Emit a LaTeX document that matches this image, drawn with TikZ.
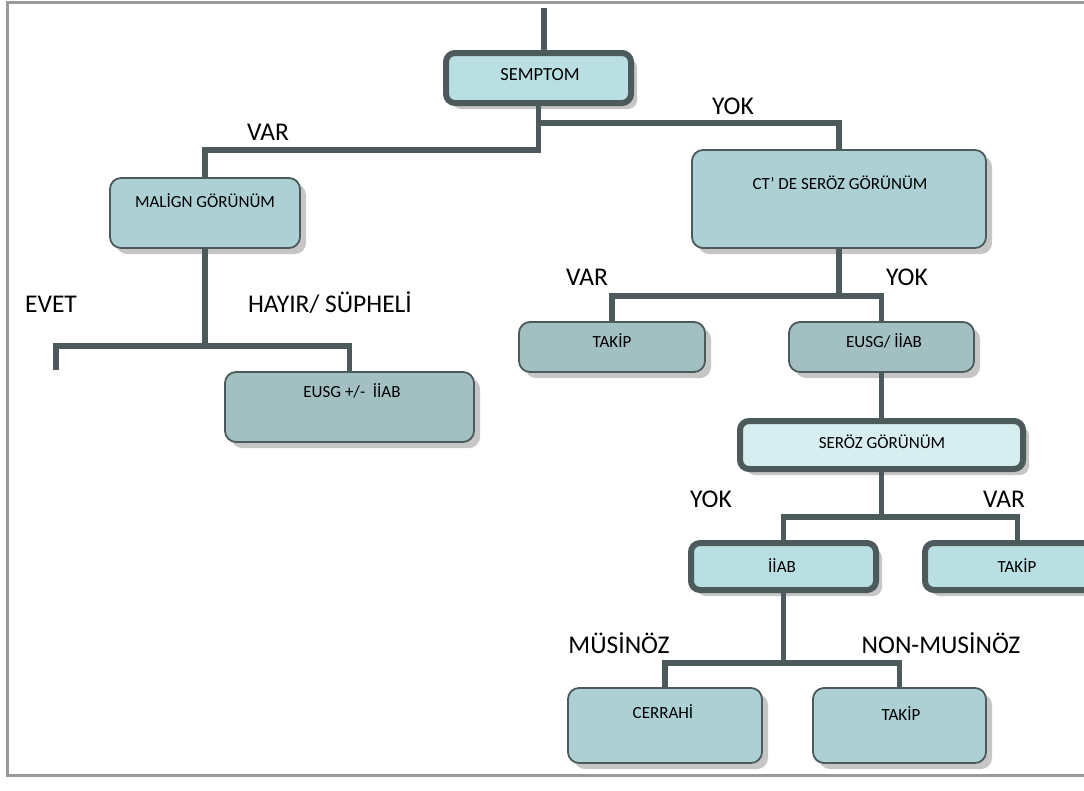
\documentclass[tikz,border=0pt]{standalone}
\usepackage{fontspec}
\setmainfont{Carlito}
\usetikzlibrary{shadows}
\definecolor{ln}{HTML}{4C5A5C}
\definecolor{fA}{HTML}{B9DFE3}
\definecolor{fB}{HTML}{ACD0D4}
\definecolor{fC}{HTML}{A2BFC2}
\definecolor{fD}{HTML}{D7EEF0}
\definecolor{shd}{HTML}{C6C6C6}
\definecolor{frm}{HTML}{9A9A9E}
\begin{document}
\begin{tikzpicture}[x=1pt,y=-1pt,
  conn/.style={draw=ln, line width=5.5pt},
  boxbase/.style={rectangle, inner sep=0pt, outer sep=0pt,
    general shadow={fill=shd, shadow xshift=6pt, shadow yshift=-6pt}},
  thinbox/.style={boxbase, draw=ln, line width=1.8pt, rounded corners=11pt},
  thickbox/.style={boxbase, draw=ln, line width=6pt, rounded corners=9pt},
  bt/.style={font=\fontsize{17}{20}\selectfont, anchor=base, inner sep=0pt},
  lbl/.style={font=\fontsize{25.5}{30}\selectfont, anchor=base, inner sep=0pt},
  frame/.style={draw=frm, line width=3pt}
]
\useasboundingbox (0,0) rectangle (1084,790);
\fill[white] (0,0) rectangle (1084,790);
\draw[frame] (1100,2) -- (7,2) -- (7,775) -- (1100,775);

% boxes
\node[thickbox, fill=fA, minimum width=185pt, minimum height=50pt] (semp) at (538.5,78) {};
\node[thinbox, fill=fB, minimum width=190pt, minimum height=70pt] (mal) at (205,213) {};
\node[thinbox, fill=fB, minimum width=294pt, minimum height=98pt] (ct) at (839,199) {};
\node[thinbox, fill=fC, minimum width=249pt, minimum height=70pt] (eusgA) at (349.5,407) {};
\node[thinbox, fill=fC, minimum width=186pt, minimum height=50pt] (takA) at (612,347) {};
\node[thinbox, fill=fC, minimum width=185pt, minimum height=50pt] (eusgB) at (881.5,347) {};
\node[thickbox, fill=fD, minimum width=283pt, minimum height=48pt] (seroz) at (881.5,445) {};
\node[thickbox, fill=fA, minimum width=185pt, minimum height=47pt] (iiab) at (783.5,566.5) {};
\node[thickbox, fill=fA, minimum width=185pt, minimum height=47pt] (takB) at (1017.5,566.5) {};
\node[thinbox, fill=fB, minimum width=194pt, minimum height=75pt] (cerr) at (665,725.5) {};
\node[thinbox, fill=fB, minimum width=173pt, minimum height=75pt] (takC) at (899.5,725.5) {};

% box texts
\node[bt, font=\fontsize{18.5}{22}\selectfont] (tsemp) at (540,80) {SEMPTOM};
\node[bt] (tmal) at (205,207) {MALİGN GÖRÜNÜM};
\node[bt] (tct) at (840,189) {CT’ DE SERÖZ GÖRÜNÜM};
\node[bt] (teusgA) at (352,397) {EUSG +/-\ \ İİAB};
\node[bt] (ttakA) at (612,347) {TAKİP};
\node[bt] (teusgB) at (884,347) {EUSG/ İİAB};
\node[bt] (tseroz) at (882,448) {SERÖZ GÖRÜNÜM};
\node[bt] (tiiab) at (782,572) {İİAB};
\node[bt] (ttakB) at (1017,572) {TAKİP};
\node[bt] (tcerr) at (663,718) {CERRAHİ};
\node[bt] (ttakC) at (901,720) {TAKİP};

% labels
\node[lbl] (l1) at (733,114) {YOK};
\node[lbl] (l2) at (268,140) {VAR};
\node[lbl] (l3) at (51,312) {EVET};
\node[lbl] (l4) at (330,312) {HAYIR/ SÜPHELİ};
\node[lbl] (l5) at (587,285) {VAR};
\node[lbl] (l6) at (907,285) {YOK};
\node[lbl] (l7) at (711,507) {YOK};
\node[lbl] (l8) at (1004,507) {VAR};
\node[lbl] (l9) at (619,653) {MÜSİNÖZ};
\node[lbl] (l10) at (941,653) {NON-MUSİNÖZ};

% connectors
\coordinate (top) at (544,8);
\coordinate (evet) at (56,370);
\draw[conn] (top) -- (top |- semp.north);
\draw[conn] (semp.south) -- ++(0,47) -| (mal.north);
\draw[conn] ([yshift=-20pt]semp.south) -| (ct.north);
\draw[conn] (mal.south) -- ++(0,98) coordinate (mj);
\draw[conn] (evet) |- (mj) -| (eusgA.north);
\draw[conn] (ct.south) -- ++(0,48) coordinate (cj);
\draw[conn] (takA.north) |- (cj) -| (eusgB.north);
\draw[conn] (eusgB.south) -- (seroz.north);
\draw[conn] (seroz.south) -- ++(0,48) coordinate (sj);
\draw[conn] (iiab.north) |- (sj) -| (takB.north);
\draw[conn] (iiab.south) -- ++(0,73) coordinate (ij);
\draw[conn] (cerr.north) |- (ij) -| (takC.north);
\end{tikzpicture}
\end{document}
